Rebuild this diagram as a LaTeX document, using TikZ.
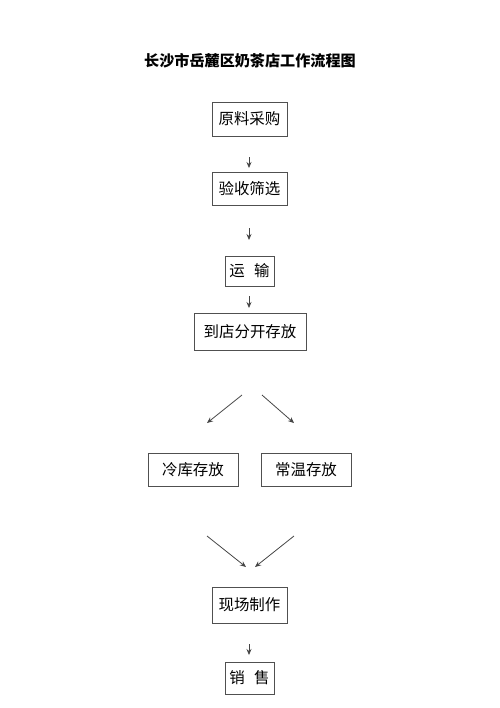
\documentclass[tikz,border=0pt]{standalone}
\usepackage{fontspec}
\newfontfamily\cjk{Noto Sans CJK SC}
\usepackage{tikz}
\usetikzlibrary{arrows.meta,positioning}
\definecolor{boxline}{HTML}{505050}
\definecolor{arrowgrey}{HTML}{444444}
\tikzset{
  stepbox/.style={draw=boxline, line width=0.45pt, fill=white, align=center,
                  inner sep=0pt, font=\cjk\fontsize{8.8pt}{10pt}\selectfont},
  flow/.style={-{Stealth[length=1.2mm,width=1mm]}, line width=0.45pt,
               draw=arrowgrey},
  ttl/.style={font=\cjk\bfseries\fontsize{8.6pt}{10pt}\selectfont},
}

\begin{document}
\begin{tikzpicture}[x=0.02cm, y=-0.02cm]
\useasboundingbox (0,0) rectangle (500,708);

% ------------------------- title ----------------------------------------
\node[ttl] at (250,61) (title) {长沙市岳麓区奶茶店工作流程图};

% ------------------------- main chain -----------------------------------
\node[stepbox, minimum width=1.5cm, minimum height=0.68cm] at (249.5,119) (buy)
   {原料采购};
\node[stepbox, minimum width=1.5cm, minimum height=0.66cm] at (249.5,188.5) (check)
   {验收筛选};
\node[stepbox, minimum width=0.98cm, minimum height=0.6cm] at (249.5,271) (ship)
   {运\hspace{0.6em}输};
\node[stepbox, minimum width=2.24cm, minimum height=0.74cm] at (250,331.5) (store)
   {到店分开存放};

\coordinate (a1s) at (249,157); \coordinate (a1e) at (249,168);
\coordinate (a2s) at (249,228); \coordinate (a2e) at (249,240);
\coordinate (a3s) at (249,296); \coordinate (a3e) at (249,308);
\draw[flow] (a1s) -- (a1e);
\draw[flow] (a2s) -- (a2e);
\draw[flow] (a3s) -- (a3e);

% ------------------------- split ----------------------------------------
\node[stepbox, minimum width=1.8cm, minimum height=0.66cm] at (193,469.5) (cold)
   {冷库存放};
\node[stepbox, minimum width=1.8cm, minimum height=0.66cm] at (306,469.5) (warm)
   {常温存放};

\coordinate (dls) at (242,395); \coordinate (dle) at (207,423);
\coordinate (drs) at (262,395); \coordinate (dre) at (294,423);
\draw[flow] (dls) -- (dle);
\draw[flow] (drs) -- (dre);

% ------------------------- merge ----------------------------------------
\node[stepbox, minimum width=1.5cm, minimum height=0.72cm] at (249.5,605) (make)
   {现场制作};
\node[stepbox, minimum width=0.98cm, minimum height=0.64cm] at (249.5,678) (sell)
   {销\hspace{0.6em}售};

\coordinate (mls) at (207,536); \coordinate (mle) at (246,567);
\coordinate (mrs) at (294,536); \coordinate (mre) at (255,567);
\draw[flow] (mls) -- (mle);
\draw[flow] (mrs) -- (mre);

\coordinate (a4s) at (249,644); \coordinate (a4e) at (249,655);
\draw[flow] (a4s) -- (a4e);
\end{tikzpicture}
\end{document}
